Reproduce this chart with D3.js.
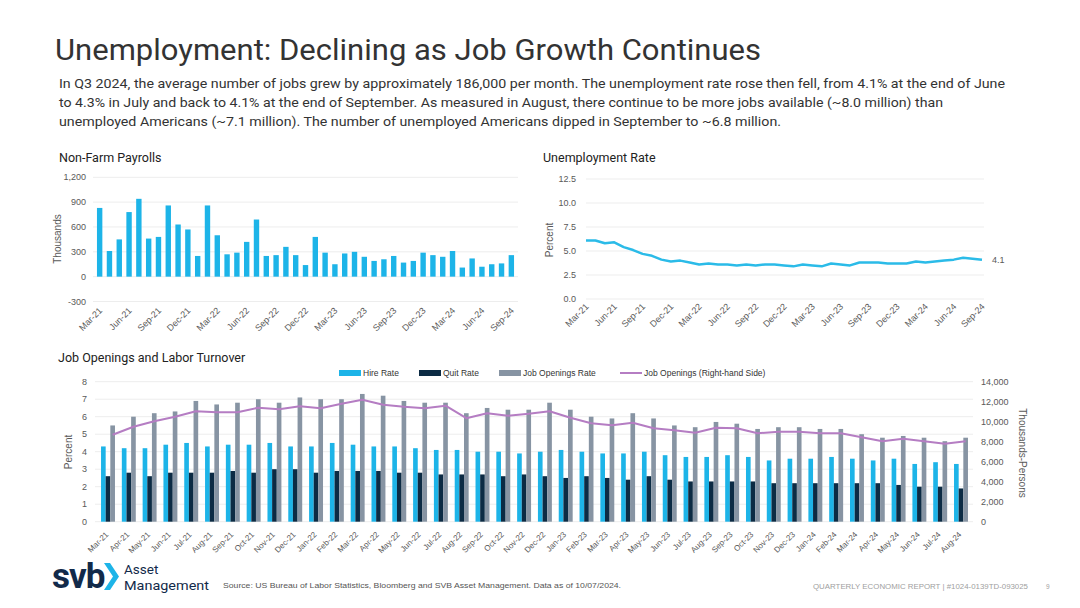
<!DOCTYPE html>
<html>
<head>
<meta charset="utf-8">
<script src="https://cdn.jsdelivr.net/npm/d3@7"></script>
<style>
  body { margin: 0; background: #fff; }
  svg text { font-family: "Liberation Sans", Arial, sans-serif; }
</style>
</head>
<body>
<svg id="page" width="1080" height="608"></svg>
<script>
// ---- data ----
var months = ["Mar-21","Apr-21","May-21","Jun-21","Jul-21","Aug-21","Sep-21","Oct-21","Nov-21","Dec-21",
  "Jan-22","Feb-22","Mar-22","Apr-22","May-22","Jun-22","Jul-22","Aug-22","Sep-22","Oct-22","Nov-22","Dec-22",
  "Jan-23","Feb-23","Mar-23","Apr-23","May-23","Jun-23","Jul-23","Aug-23","Sep-23","Oct-23","Nov-23","Dec-23",
  "Jan-24","Feb-24","Mar-24","Apr-24","May-24","Jun-24","Jul-24","Aug-24","Sep-24"];

// Non-farm payrolls, thousands (Mar-21 .. Sep-24)
var payrolls = [830,310,450,780,940,460,480,860,630,570,250,860,500,270,290,420,690,250,260,360,260,140,
  480,290,150,280,300,240,190,210,250,170,190,290,260,240,310,110,220,120,150,160,260];

// Unemployment rate, percent (Mar-21 .. Sep-24)
var unempRate = [6.1,6.1,5.8,5.9,5.4,5.1,4.7,4.5,4.1,3.9,4.0,3.8,3.6,3.7,3.6,3.6,3.5,3.6,3.5,3.6,3.6,3.5,
  3.4,3.6,3.5,3.4,3.7,3.6,3.5,3.8,3.8,3.8,3.7,3.7,3.7,3.9,3.8,3.9,4.0,4.1,4.3,4.2,4.1];

// JOLTS (Mar-21 .. Aug-24)
var joltsMonths = months.slice(0, 42);
var hireRate = [4.3,4.2,4.2,4.4,4.5,4.3,4.4,4.4,4.5,4.3,4.3,4.5,4.4,4.3,
  4.3,4.2,4.1,4.1,4.0,4.0,3.9,4.0,4.1,4.0,3.9,3.9,4.0,3.8,
  3.7,3.7,3.8,3.7,3.5,3.6,3.6,3.7,3.6,3.5,3.6,3.3,3.4,3.3];
var quitRate = [2.6,2.8,2.6,2.8,2.8,2.8,2.9,2.8,3.0,3.0,2.8,2.9,2.9,2.9,
  2.8,2.8,2.7,2.7,2.7,2.6,2.7,2.6,2.5,2.6,2.5,2.4,2.6,2.4,
  2.3,2.3,2.3,2.3,2.2,2.2,2.2,2.2,2.2,2.2,2.1,2.0,2.0,1.9];
var openingsRate = [5.5,6.0,6.2,6.3,6.9,6.7,6.8,7.0,6.8,7.1,7.0,7.0,7.3,7.2,
  6.9,6.8,6.8,6.2,6.5,6.4,6.4,6.8,6.4,6.0,5.9,6.2,5.9,5.5,
  5.4,5.7,5.6,5.3,5.4,5.4,5.3,5.3,5.0,4.8,4.9,4.8,4.6,4.8];
// job openings level, thousands (right-hand side)
var openingsLevel = [8700,9500,10050,10500,11050,10950,10950,11400,11250,11550,11350,11800,12200,11700,
  11500,11350,11600,10350,10850,10600,10800,11050,10400,9850,9650,9900,9350,9150,
  8900,9400,9350,8850,9000,9000,8850,8850,8450,8050,8300,8050,7800,8050];

var payrollTicks = [-300, 0, 300, 600, 900, 1200];
var unempTicks = [0, 2.5, 5, 7.5, 10, 12.5];
var rateTicks = [0, 1, 2, 3, 4, 5, 6, 7, 8];
var levelTicks = [0, 2000, 4000, 6000, 8000, 10000, 12000, 14000];

var joltsSeries = [
  {key: "Hire Rate", values: hireRate, color: "#1db4e8"},
  {key: "Quit Rate", values: quitRate, color: "#0c2b44"},
  {key: "Job Openings Rate", values: openingsRate, color: "#8794a3"}
];

var cyan = "#1db4e8",
    purple = "#b57dc3",
    grid = "#ededed",
    tickColor = "#595959";

// plain hyphen for negatives, like the source chart
var fmtThousands = d3.formatLocale({decimal: ".", thousands: ",", grouping: [3], currency: ["$", ""], minus: "-"}).format(",");

var svg = d3.select("#page");

/* Heading and intro text */
svg.append("text")
  .attr("x", 55).attr("y", 60)
  .attr("textLength", 706).attr("lengthAdjust", "spacingAndGlyphs")
  .style("font-family", "Roboto, sans-serif")
  .style("font-size", "30px")
  .style("fill", "#333")
  .text("Unemployment: Declining as Job Growth Continues");

var intro = [
  {t: "In Q3 2024, the average number of jobs grew by approximately 186,000 per month. The unemployment rate rose then fell, from 4.1% at the end of June", w: 946},
  {t: "to 4.3% in July and back to 4.1% at the end of September. As measured in August, there continue to be more jobs available (~8.0 million) than", w: 884},
  {t: "unemployed Americans (~7.1 million). The number of unemployed Americans dipped in September to ~6.8 million.", w: 722}
];
svg.selectAll(".intro")
  .data(intro)
  .enter().append("text")
  .attr("class", "intro")
  .attr("x", 59)
  .attr("y", function(d, i) { return 88 + i * 19; })
  .attr("textLength", function(d) { return d.w; })
  .attr("lengthAdjust", "spacingAndGlyphs")
  .style("font-family", "Roboto, sans-serif")
  .style("font-size", "13.5px")
  .style("fill", "#333")
  .text(function(d) { return d.t; });

function panelTitle(x, y, txt) {
  svg.append("text")
    .attr("x", x).attr("y", y)
    .style("font-family", "Roboto, sans-serif")
    .style("font-size", "12.5px")
    .style("fill", "#222")
    .text(txt);
}

function rotLabel(x, y, txt, angle) {
  svg.append("text")
    .attr("transform", "translate(" + x + "," + y + ") rotate(" + angle + ")")
    .attr("text-anchor", "middle")
    .style("font-size", "10px")
    .style("fill", tickColor)
    .text(txt);
}

/* ---------- Non-Farm Payrolls ---------- */
panelTitle(59, 162, "Non-Farm Payrolls");

var x1 = d3.scaleBand().domain(months).range([95, 516]).paddingInner(0.45).paddingOuter(0.2);
var y1 = d3.scaleLinear().domain([-300, 1200]).range([301.5, 177.3]);

svg.append("g").selectAll("line")
  .data(payrollTicks)
  .enter().append("line")
  .attr("x1", 93).attr("x2", 518)
  .attr("y1", y1).attr("y2", y1)
  .style("stroke", grid);

svg.append("g").selectAll("text")
  .data(payrollTicks)
  .enter().append("text")
  .attr("x", 86).attr("y", y1).attr("dy", "0.35em")
  .attr("text-anchor", "end")
  .style("font-size", "9px").style("fill", tickColor)
  .text(fmtThousands);

rotLabel(61, 239, "Thousands", -90);

svg.append("g").selectAll(".bar")
  .data(payrolls)
  .enter().append("rect")
  .attr("class", "bar")
  .attr("x", function(d, i) { return x1(months[i]); })
  .attr("y", function(d) { return y1(Math.max(0, d)); })
  .attr("width", x1.bandwidth())
  .attr("height", function(d) { return Math.abs(y1(d) - y1(0)); })
  .style("fill", cyan);

function monthLabels(scale, list, y, size, dx) {
  svg.append("g").selectAll("text")
    .data(list)
    .enter().append("text")
    .attr("transform", function(d) {
      return "translate(" + (scale(d) + (scale.bandwidth ? scale.bandwidth() / 2 : 0) + dx) + "," + y + ") rotate(-45)";
    })
    .attr("text-anchor", "end")
    .attr("dy", "0.35em")
    .style("font-size", size)
    .style("fill", tickColor)
    .text(function(d) { return d; });
}

var quarterly = months.filter(function(d, i) { return i % 3 == 0; });
monthLabels(x1, quarterly, 309, "9px", 1);

/* ---------- Unemployment Rate ---------- */
panelTitle(543, 162, "Unemployment Rate");

var x2 = d3.scalePoint().domain(months).range([586, 982]);
var y2 = d3.scaleLinear().domain([0, 12.5]).range([299, 179]);

svg.append("g").selectAll("line")
  .data(unempTicks)
  .enter().append("line")
  .attr("x1", 586).attr("x2", 984)
  .attr("y1", y2).attr("y2", y2)
  .style("stroke", grid);

svg.append("g").selectAll("text")
  .data(unempTicks)
  .enter().append("text")
  .attr("x", 576).attr("y", y2).attr("dy", "0.35em")
  .attr("text-anchor", "end")
  .style("font-size", "9px").style("fill", tickColor)
  .text(d3.format(".1f"));

rotLabel(553, 240, "Percent", -90);

var urLine = d3.line()
  .x(function(d, i) { return x2(months[i]); })
  .y(function(d) { return y2(d); });

svg.append("path")
  .datum(unempRate)
  .attr("d", urLine)
  .style("fill", "none")
  .style("stroke", "#2bbbe8")
  .style("stroke-width", 2.5)
  .style("stroke-linejoin", "round");

svg.append("text")
  .attr("x", 992).attr("y", y2(unempRate[unempRate.length - 1])).attr("dy", "0.35em")
  .style("font-size", "9px").style("fill", tickColor)
  .text(unempRate[unempRate.length - 1]);

monthLabels(x2, quarterly, 305, "9px", 1);

/* ---------- Job Openings and Labor Turnover ---------- */
panelTitle(58, 362, "Job Openings and Labor Turnover");

var x3 = d3.scaleBand().domain(joltsMonths).range([97.6, 971.4]).paddingInner(0.33).paddingOuter(0.165);
var xs = d3.scaleBand().domain(joltsSeries.map(function(d) { return d.key; })).range([0, x3.bandwidth()]);
var y3 = d3.scaleLinear().domain([0, 8]).range([521.7, 381.7]);
var y3r = d3.scaleLinear().domain([0, 14000]).range([521.7, 381.7]);

svg.append("g").selectAll("line")
  .data(rateTicks)
  .enter().append("line")
  .attr("x1", 95).attr("x2", 973)
  .attr("y1", y3).attr("y2", y3)
  .style("stroke", grid);

svg.append("g").selectAll("text")
  .data(rateTicks)
  .enter().append("text")
  .attr("x", 87).attr("y", y3).attr("dy", "0.35em")
  .attr("text-anchor", "end")
  .style("font-size", "9px").style("fill", tickColor)
  .text(function(d) { return d; });

svg.append("g").selectAll("text")
  .data(levelTicks)
  .enter().append("text")
  .attr("x", 981).attr("y", y3r).attr("dy", "0.35em")
  .attr("text-anchor", "start")
  .style("font-size", "9px").style("fill", tickColor)
  .text(fmtThousands);

rotLabel(72, 452, "Percent", -90);
rotLabel(1019, 453, "Thousands-Persons", 90);

joltsSeries.forEach(function(s) {
  svg.append("g").selectAll("rect")
    .data(s.values)
    .enter().append("rect")
    .attr("x", function(d, i) { return x3(joltsMonths[i]) + xs(s.key); })
    .attr("y", function(d) { return y3(d); })
    .attr("width", xs.bandwidth())
    .attr("height", function(d) { return y3(0) - y3(d); })
    .style("fill", s.color);
});

var levelLine = d3.line()
  .x(function(d, i) { return x3(joltsMonths[i]) + xs("Job Openings Rate") + xs.bandwidth() / 2; })
  .y(function(d) { return y3r(d); });

svg.append("path")
  .datum(openingsLevel)
  .attr("d", levelLine)
  .style("fill", "none")
  .style("stroke", purple)
  .style("stroke-width", 2)
  .style("stroke-linejoin", "round");

monthLabels(x3, joltsMonths, 533, "8px", -1);

/* legend */
var legendItems = [
  {key: "Hire Rate", x: 339, color: "#1db4e8", type: "rect"},
  {key: "Quit Rate", x: 419, color: "#0c2b44", type: "rect"},
  {key: "Job Openings Rate", x: 499, color: "#8794a3", type: "rect"},
  {key: "Job Openings (Right-hand Side)", x: 620, color: purple, type: "line"}
];
var lg = svg.append("g").selectAll("g")
  .data(legendItems)
  .enter().append("g")
  .attr("transform", function(d) { return "translate(" + d.x + ",373)"; });
lg.filter(function(d) { return d.type == "rect"; })
  .append("rect")
  .attr("x", 0).attr("y", -3).attr("width", 22).attr("height", 6)
  .style("fill", function(d) { return d.color; });
lg.filter(function(d) { return d.type == "line"; })
  .append("line")
  .attr("x1", 0).attr("x2", 22).attr("y1", 0).attr("y2", 0)
  .style("stroke", function(d) { return d.color; })
  .style("stroke-width", 2);
lg.append("text")
  .attr("x", 24).attr("dy", "0.35em")
  .style("font-size", "8.5px").style("fill", "#333")
  .text(function(d) { return d.key; });

/* ---------- footer ---------- */
svg.append("text")
  .attr("x", 52).attr("y", 588)
  .style("font-family", "Roboto, sans-serif")
  .style("font-weight", "700")
  .style("font-size", "35px")
  .style("letter-spacing", "-1px")
  .style("fill", "#122a4a")
  .text("svb");
svg.append("path")
  .attr("d", "M104,563 L110,563 L119,576.5 L110,590 L104,590 L113,576.5 Z")
  .style("fill", cyan);
svg.append("text")
  .attr("x", 124).attr("y", 574)
  .style("font-family", "Roboto, sans-serif")
  .style("font-size", "13.5px").style("fill", "#122a4a")
  .text("Asset");
svg.append("text")
  .attr("x", 124).attr("y", 590)
  .attr("textLength", 85).attr("lengthAdjust", "spacingAndGlyphs")
  .style("font-family", "Roboto, sans-serif")
  .style("font-size", "13.5px").style("fill", "#122a4a")
  .text("Management");

svg.append("text")
  .attr("x", 223).attr("y", 588)
  .attr("textLength", 398).attr("lengthAdjust", "spacingAndGlyphs")
  .style("font-size", "8px").style("fill", "#555")
  .text("Source: US Bureau of Labor Statistics, Bloomberg and SVB Asset Management. Data as of 10/07/2024.");

svg.append("text")
  .attr("x", 813).attr("y", 589)
  .attr("textLength", 215).attr("lengthAdjust", "spacingAndGlyphs")
  .style("font-size", "6.5px").style("fill", "#a0a0a0")
  .text("QUARTERLY ECONOMIC REPORT | #1024-0139TD-093025");

svg.append("text")
  .attr("x", 1046).attr("y", 589)
  .style("font-size", "6.5px").style("fill", "#a0a0a0")
  .text("9");
</script>
</body>
</html>
